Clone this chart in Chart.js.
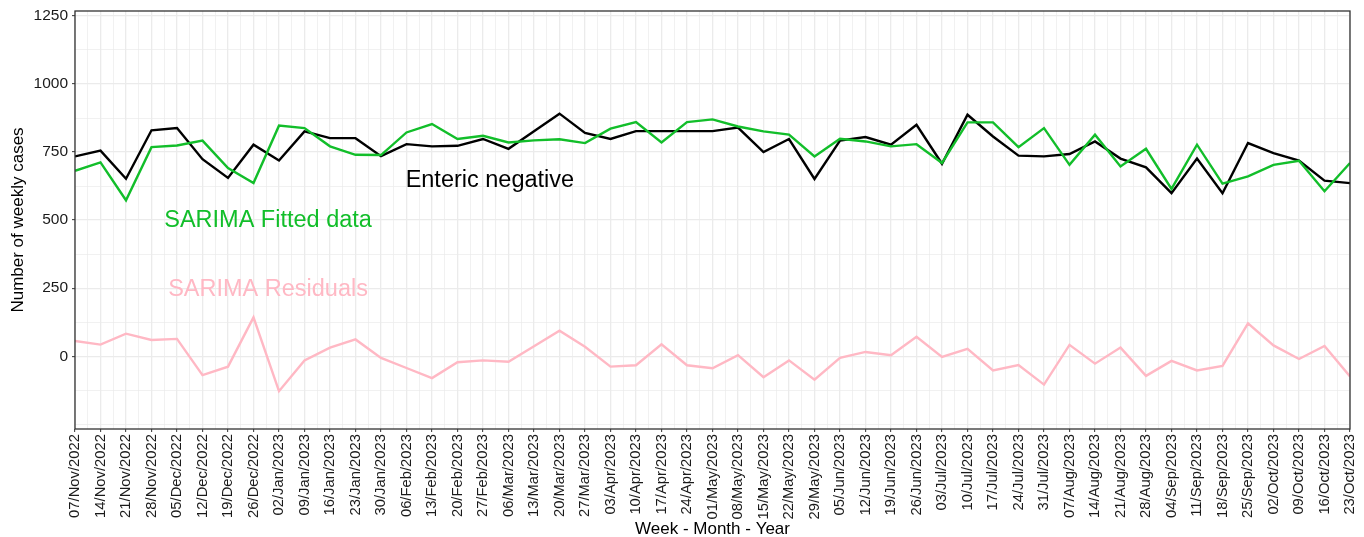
<!DOCTYPE html>
<html><head><meta charset="utf-8">
<script src="https://cdn.jsdelivr.net/npm/chart.js@4.4.1/dist/chart.umd.min.js"></script>
<style>html,body{margin:0;padding:0;background:#fff}#wrap{width:1364px;height:537px;position:relative}</style>
</head><body><div id="wrap"><canvas id="c" width="1364" height="537"></canvas></div>
<script>
const weekLabels = ["07/Nov/2022","14/Nov/2022","21/Nov/2022","28/Nov/2022","05/Dec/2022","12/Dec/2022","19/Dec/2022","26/Dec/2022",
"02/Jan/2023","09/Jan/2023","16/Jan/2023","23/Jan/2023","30/Jan/2023","06/Feb/2023","13/Feb/2023","20/Feb/2023","27/Feb/2023",
"06/Mar/2023","13/Mar/2023","20/Mar/2023","27/Mar/2023","03/Apr/2023","10/Apr/2023","17/Apr/2023","24/Apr/2023",
"01/May/2023","08/May/2023","15/May/2023","22/May/2023","29/May/2023","05/Jun/2023","12/Jun/2023","19/Jun/2023","26/Jun/2023",
"03/Jul/2023","10/Jul/2023","17/Jul/2023","24/Jul/2023","31/Jul/2023","07/Aug/2023","14/Aug/2023","21/Aug/2023","28/Aug/2023",
"04/Sep/2023","11/Sep/2023","18/Sep/2023","25/Sep/2023","02/Oct/2023","09/Oct/2023","16/Oct/2023","23/Oct/2023"];

const entericNegative = [734,755,652,830,838,724,655,777,719,826,801,801,735,779,771,773,798,762,826,891,
820,798,827,827,827,827,840,750,798,651,792,805,777,850,707,887,807,737,734,743,789,726,694,599,726,599,783,746,719,645,636];

const sarimaFitted = [681,712,573,768,774,792,691,636,847,838,771,740,739,822,853,798,810,785,793,797,
783,836,860,785,860,870,844,826,814,734,799,789,771,779,710,859,859,768,838,703,814,697,762,615,777,634,661,703,718,606,710];

const sarimaResiduals = [56,43,83,60,64,-69,-38,143,-128,-15,32,62,-6,-43,-80,-22,-15,-20,37,94,
35,-38,-33,44,-33,-44,4,-77,-15,-86,-6,16,4,72,-2,27,-52,-32,-104,42,-27,32,-72,-17,-52,-35,121,40,-10,38,-74];

const yMajorTicks = [0,250,500,750,1000,1250];
const yMinorTicks = [-250,-125,125,375,625,875,1125];

const seriesNames = ["Enteric negative","SARIMA Fitted data","SARIMA Residuals"];
const seriesColors = ["#000000","#12BE2A","#FFB8C4"];
// label anchors in data units (week index, cases)
const labelAnchorX = [16.27, 7.57, 7.57];
const labelAnchorY = [644, 497, 247];

const FONT = "'Liberation Sans', Arial, Helvetica, sans-serif";
const xTickValues = [];
for (let i = 0; i <= (weekLabels.length - 1) * 2; i++) xTickValues.push(i / 2);
const yTickValues = yMajorTicks.concat(yMinorTicks).sort((a,b)=>a-b);

const toPoints = arr => arr.map((v, i) => ({x: i, y: v}));

const panelBorder = {
  id: 'panelBorder',
  afterDatasetsDraw(chart) {
    const {ctx, chartArea: a} = chart;
    ctx.save();
    ctx.strokeStyle = '#333333';
    ctx.lineWidth = 1.3;
    ctx.strokeRect(a.left, a.top, a.right - a.left, a.bottom - a.top);
    ctx.restore();
  }
};

const textLabels = {
  id: 'textLabels',
  afterDatasetsDraw(chart) {
    const {ctx, scales: {x, y}} = chart;
    ctx.save();
    ctx.font = "23.5px " + FONT;
    ctx.textAlign = 'center';
    ctx.textBaseline = 'middle';
    seriesNames.forEach((t, i) => {
      ctx.fillStyle = seriesColors[i];
      ctx.fillText(t, x.getPixelForValue(labelAnchorX[i]), y.getPixelForValue(labelAnchorY[i]));
    });
    ctx.restore();
  }
};

const isMajorX = v => Number.isInteger(v);
const isMajorY = v => yMajorTicks.includes(v);

new Chart(document.getElementById('c'), {
  type: 'line',
  data: {
    datasets: [
      {label: seriesNames[1], data: toPoints(sarimaFitted), borderColor: seriesColors[1], order: 1},
      {label: seriesNames[0], data: toPoints(entericNegative), borderColor: seriesColors[0], order: 2},
      {label: seriesNames[2], data: toPoints(sarimaResiduals), borderColor: seriesColors[2], order: 3}
    ]
  },
  options: {
    responsive: false,
    animation: false,
    devicePixelRatio: 1,
    layout: {padding: {left: 0, right: 14, top: 11, bottom: 0}},
    elements: {
      point: {radius: 0, hoverRadius: 0},
      line: {borderWidth: 2.4, tension: 0, fill: false, borderCapStyle: 'butt', borderJoinStyle: 'miter'}
    },
    plugins: {legend: {display: false}, tooltip: {enabled: false}},
    scales: {
      x: {
        type: 'linear',
        min: 0,
        max: weekLabels.length - 1,
        afterBuildTicks: s => { s.ticks = xTickValues.map(v => ({value: v})); },
        afterFit: s => { s.height = 108; s.paddingLeft = 0; s.paddingRight = 0; },
        ticks: {
          autoSkip: false, maxRotation: 90, minRotation: 90,
          padding: 2, color: '#1a1a1a',
          font: {family: FONT, size: 14.8},
          callback: v => isMajorX(v) ? weekLabels[v] : ''
        },
        grid: {
          color: '#EBEBEB',
          lineWidth: c => (c.tick && isMajorX(c.tick.value)) ? 1.3 : 0.7,
          tickColor: c => (c.tick && isMajorX(c.tick.value)) ? '#333333' : 'rgba(0,0,0,0)',
          tickLength: 3, tickWidth: 1
        },
        border: {display: false},
        title: {display: true, text: 'Week - Month - Year', color: '#000', font: {family: FONT, size: 17, lineHeight: 0.9}, padding: {top: 0, bottom: 0}}
      },
      y: {
        type: 'linear',
        min: -267,
        max: 1268,
        afterBuildTicks: s => { s.ticks = yTickValues.map(v => ({value: v})); },
        afterFit: s => { s.width = 75; s.paddingTop = 0; s.paddingBottom = 0; },
        ticks: {
          padding: 4, color: '#1a1a1a',
          font: {family: FONT, size: 15.5},
          callback: v => isMajorY(v) ? String(v) : ''
        },
        grid: {
          color: '#EBEBEB',
          lineWidth: c => (c.tick && isMajorY(c.tick.value)) ? 1.3 : 0.7,
          tickColor: c => (c.tick && isMajorY(c.tick.value)) ? '#333333' : 'rgba(0,0,0,0)',
          tickLength: 3, tickWidth: 1
        },
        border: {display: false},
        title: {display: true, text: 'Number of weekly cases', color: '#000', font: {family: FONT, size: 17}, padding: {top: 8, bottom: 0}}
      }
    }
  },
  plugins: [panelBorder, textLabels]
});
</script>
</body></html>
